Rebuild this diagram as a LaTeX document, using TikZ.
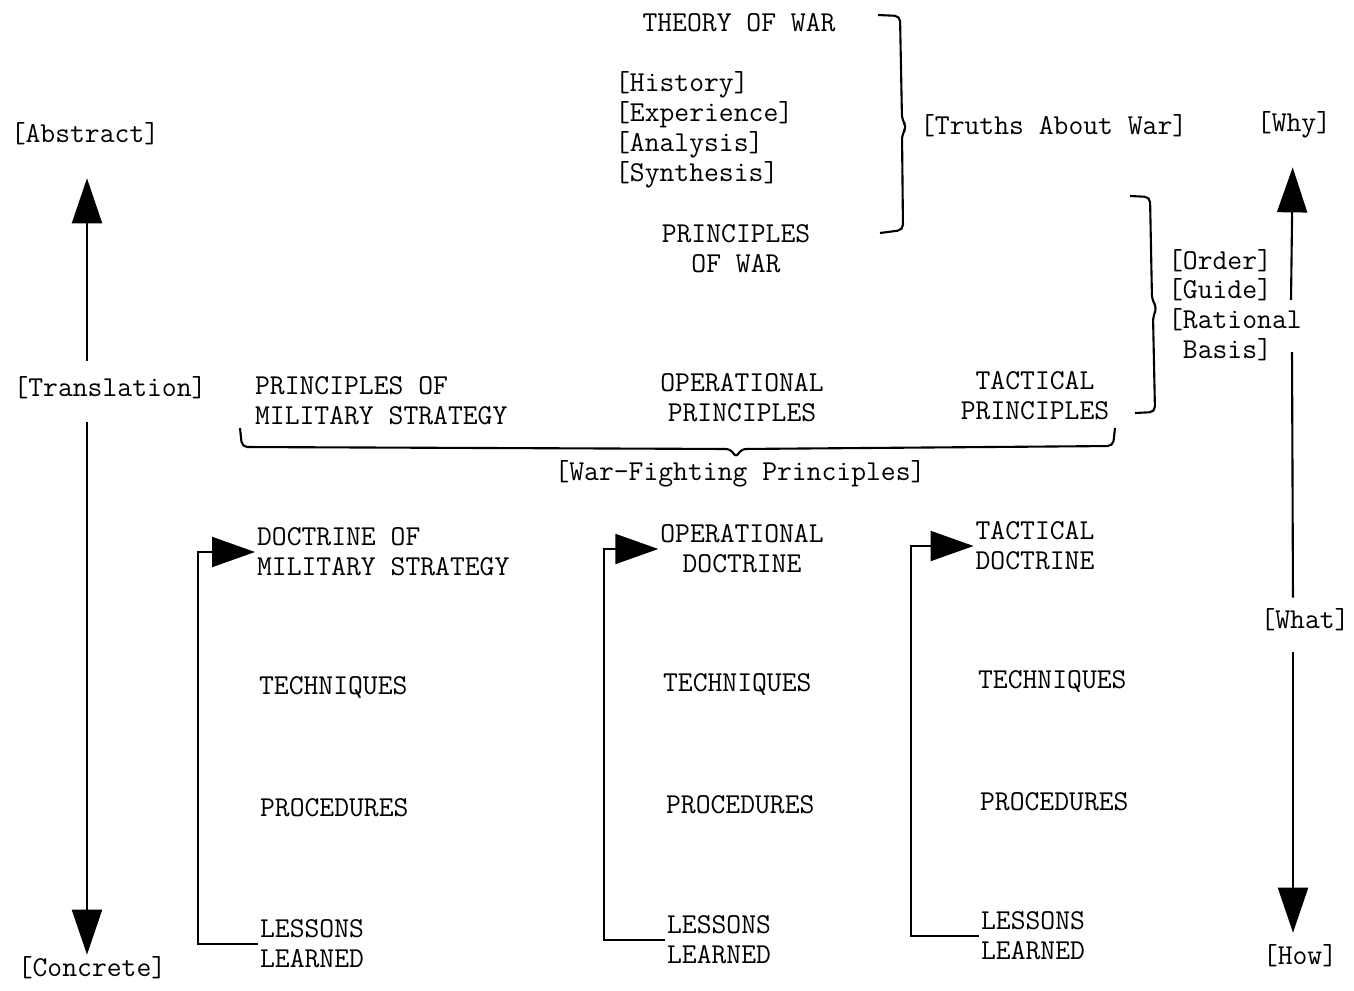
\documentclass[tikz,border=0pt]{standalone}
\usetikzlibrary{arrows.meta}
\tikzset{
  lbl/.style={font=\ttfamily\fontsize{16.4}{17}\selectfont, inner sep=1pt},
  bigtip/.style={-{Triangle[length=0.9cm,width=0.6cm]}, line width=1.2pt},
  fbtip/.style={-{Triangle[length=0.86cm,width=0.6cm]}, line width=1.2pt},
  bracketline/.style={line width=1.2pt, rounded corners=3pt},
}
\begin{document}
\begin{tikzpicture}[x=0.02cm,y=-0.02cm]
\useasboundingbox (0,0) rectangle (1354,990);

% top: theory and principles of war
\node[lbl] (theory) at (739,23) {THEORY OF WAR};
\node[lbl,anchor=west,align=left] (sources) at (613,130) {[History]\\{}[Experience]\\{}[Analysis]\\{}[Synthesis]};
\node[lbl,align=center] (pow) at (736,249) {PRINCIPLES\\OF WAR};
\node[lbl,anchor=west] (truths) at (918,126) {[Truths About War]};
\node[lbl,anchor=west,align=left] (order) at (1166,305) {[Order]\\{}[Guide]\\{}[Rational\\\phantom{[}Basis]};

% side labels
\node[lbl] (abs) at (85,134) {[Abstract]};
\node[lbl] (trans) at (110,388) {[Translation]};
\node[lbl] (conc) at (92,968) {[Concrete]};
\node[lbl] (why) at (1294,125) {[Why]};
\node[lbl] (what) at (1305,620) {[What]};
\node[lbl] (how) at (1300,956) {[How]};
\coordinate (lcol) at (87,0);
\coordinate (rcol) at (1293,0);
\coordinate (ratA) at (1291,300);
\coordinate (ratB) at (1292,352);

% war-fighting principles
\node[lbl,anchor=west,align=left] (pstrat) at (253,401) {PRINCIPLES OF\\MILITARY STRATEGY};
\node[lbl,align=center] (popr) at (742,398) {OPERATIONAL\\PRINCIPLES};
\node[lbl,align=center] (ptac) at (1035,396) {TACTICAL\\PRINCIPLES};
\node[lbl] (wfp) at (740,474) {[War-Fighting Principles]};

% column 1
\node[lbl,anchor=west,align=left] (doc1) at (255,552) {DOCTRINE OF\\MILITARY STRATEGY};
\node[lbl,anchor=west] (tech1) at (257,688) {TECHNIQUES};
\node[lbl,anchor=west] (proc1) at (258,808) {PROCEDURES};
\node[lbl,anchor=west,align=left] (les1) at (258,944) {LESSONS\\LEARNED};

% column 2
\node[lbl,align=center] (doc2) at (742,549) {OPERATIONAL\\DOCTRINE};
\node[lbl,anchor=west] (tech2) at (661,685) {TECHNIQUES};
\node[lbl,anchor=west] (proc2) at (664,805) {PROCEDURES};
\node[lbl,anchor=west,align=left] (les2) at (665,940) {LESSONS\\LEARNED};

% column 3
\node[lbl,align=center] (doc3) at (1035,546) {TACTICAL\\DOCTRINE};
\node[lbl,anchor=west] (tech3) at (976,682) {TECHNIQUES};
\node[lbl,anchor=west] (proc3) at (978,802) {PROCEDURES};
\node[lbl,anchor=west,align=left] (les3) at (979,936) {LESSONS\\LEARNED};

% brackets
\draw[bracketline] (878,15) -- (900,16) -- (902,120) -- (907,127) -- (902,134) -- (903,230) -- (880,233);
\draw[bracketline] (1130,196) -- (1150,197) -- (1152,300) -- (1157,308) -- (1153,316) -- (1155,412) -- (1135,413);
\draw[bracketline] (240,428) -- (242,447) -- (731,449) -- (736,458) -- (741,449) -- (1113,446) -- (1115,428);

% vertical arrows
\draw[bigtip,shorten <=0.28cm,shorten >=0.62cm] (trans.north -| lcol) -- (abs.south -| lcol);
\draw[bigtip,shorten <=0.42cm] (trans.south -| lcol) -- (conc.north -| lcol);
\draw[bigtip,shorten >=0.54cm] (ratA) -- (why.south -| rcol);
\draw[line width=1.2pt,shorten >=0.18cm] (ratB) -- (what.north -| rcol);
\draw[bigtip,shorten <=0.38cm,shorten >=0.2cm] (what.south -| rcol) -- (how.north -| rcol);

% feedback arrows
\draw[fbtip] (les1.west) -- ++(-60,0) |- (doc1.west);
\draw[fbtip] (les2.west) -- ++(-61,0) |- (doc2.west);
\draw[fbtip] (les3.west) -- ++(-68,0) |- (doc3.west);
\end{tikzpicture}
\end{document}
